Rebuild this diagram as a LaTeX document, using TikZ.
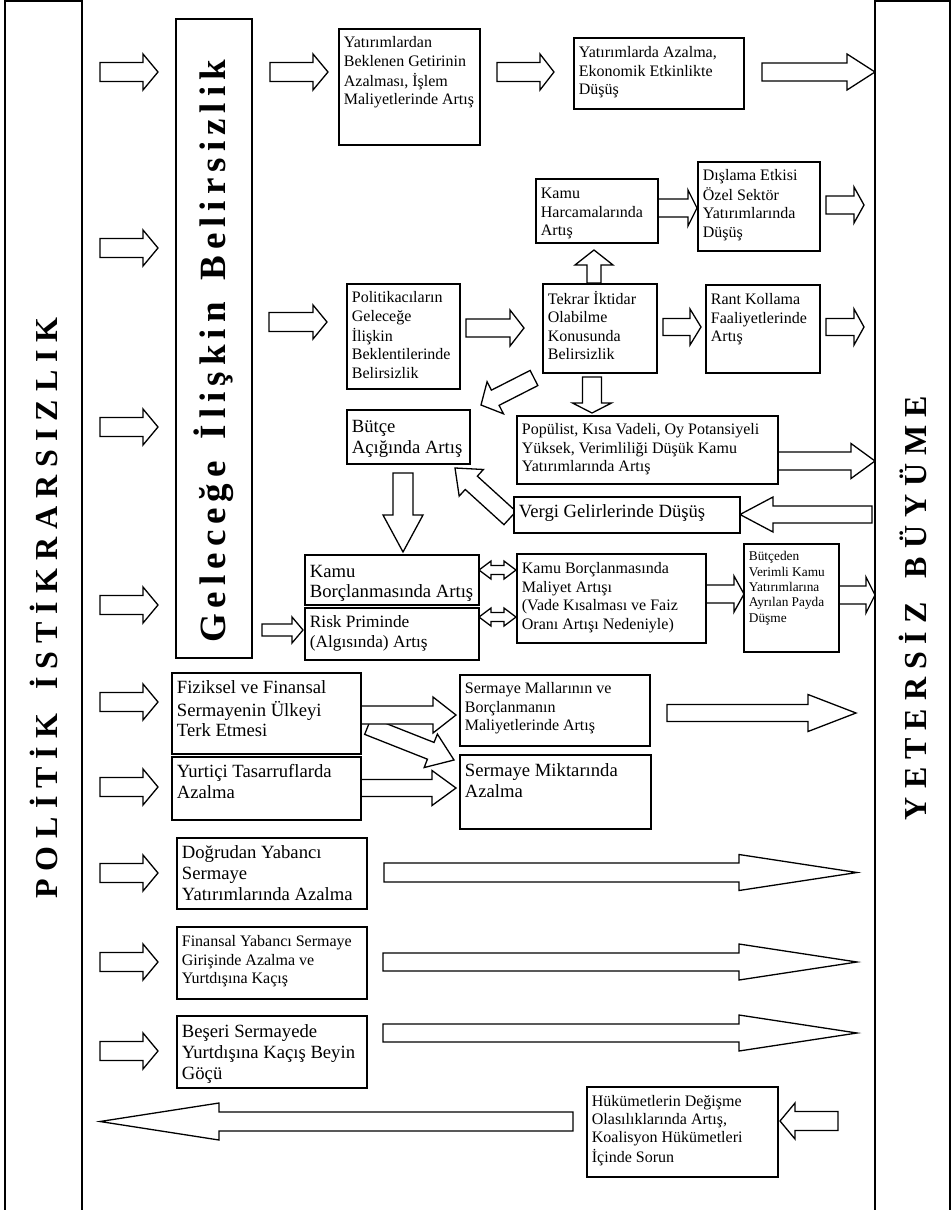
\documentclass[tikz,border=0pt]{standalone}
\usepackage{fontspec}
\setmainfont{Liberation Serif}
\usetikzlibrary{calc}
\pgfdeclarelayer{back}
\pgfdeclarelayer{bg}
\pgfsetlayers{back,bg,main}
\makeatletter
\newcommand\spreadword[2]{{\def\sw@gap{#1}\let\sw@sep\relax\@tfor\sw@c:=#2\do{\sw@sep\sw@c\def\sw@sep{\hspace{\sw@gap}}}}}
\makeatother
\newcommand\txtlines[1]{\vbox{\tabskip=0pt\halign{\strut##\hfil\cr#1\crcr}}}
\newcommand\boxtext[5]{\vbox to #2pt{\hbox to #1pt{\hfil}\nointerlineskip\kern#3pt\nointerlineskip\moveright5pt\hbox to 0pt{#4\txtlines{#5}\hss}\vfil}}
\newcommand\tbox[8]{\node[box] (#1) at (#2,#3) {\boxtext{#4}{#5}{#6}{#7}{#8}};}
\newcommand\fA{\fontsize{16}{18.5}\selectfont}
\newcommand\fB{\fontsize{18.67}{21}\selectfont}
\newcommand\fC{\fontsize{13.33}{15.3}\selectfont}
\newcommand\fD{\fontsize{17.3}{20}\selectfont}
\newcommand\fE{\fontsize{18.67}{20}\selectfont}
\newcommand\fH{\fontsize{16}{17.8}\selectfont}
\newcommand\fBar{\fontsize{32}{36}\selectfont\bfseries}
\newcommand\fMid{\fontsize{37}{40}\selectfont\bfseries}
% block arrow: tail, tip, shaft half width, head half width, head length
\newcommand\barrow[6][]{%
  \coordinate (bA) at ($(#3)!#6pt!(#2)$);
  \draw[blk,#1] ($(#2)!#4pt!90:(#3)$) -- ($(bA)!#4pt!90:(#3)$) -- ($(bA)!#5pt!90:(#3)$) -- (#3)
    -- ($(bA)!#5pt!-90:(#3)$) -- ($(bA)!#4pt!-90:(#3)$) -- ($(#2)!#4pt!-90:(#3)$) -- cycle;}
% double block arrow: left tip, right tip, shaft half width, head half width, head length
\newcommand\darrow[5]{%
  \coordinate (dA) at ($(#1)!#5pt!(#2)$);
  \coordinate (dB) at ($(#2)!#5pt!(#1)$);
  \draw[blk] (#1) -- ($(dA)!#4pt!90:(#2)$) -- ($(dA)!#3pt!90:(#2)$) -- ($(dB)!#3pt!-90:(#1)$)
    -- ($(dB)!#4pt!-90:(#1)$) -- (#2) -- ($(dB)!#4pt!90:(#1)$) -- ($(dB)!#3pt!90:(#1)$)
    -- ($(dA)!#3pt!-90:(#2)$) -- ($(dA)!#4pt!-90:(#2)$) -- cycle;}
\begin{document}
\begin{tikzpicture}[x=1pt,y=-1pt,
  box/.style={draw, line width=1.8pt, fill=white, inner sep=0pt, anchor=north west},
  bar/.style={draw, line width=1.8pt, fill=white, inner sep=0pt, rotate=90},
  blk/.style={draw, line width=1.3pt, fill=white, line join=miter, miter limit=10}]
\begin{pgfonlayer}{back}\fill[white] (0,0) rectangle (951,1210);\end{pgfonlayer}
\useasboundingbox (0,0) rectangle (951,1210);
% bars
\node[bar, minimum width=1214pt, minimum height=77pt] (lbar) at (43.5,608)
  {\fBar\spreadword{8pt}{POLİTİK}\hspace{24pt}\spreadword{8pt}{İSTİKRARSIZLIK}};
\node[bar, minimum width=1214pt, minimum height=75pt] (rbar) at (912.5,608)
  {\fBar\spreadword{8pt}{YETERSİZ}\hspace{24pt}\spreadword{8pt}{BÜYÜME}};
\node[bar, minimum width=639pt, minimum height=76pt] (mbar) at (214,338.5)
  {\fMid\spreadword{6pt}{Geleceğe}\hspace{22pt}\spreadword{6pt}{İlişkin}\hspace{22pt}\spreadword{6pt}{Belirsizlik}\rule{26pt}{0pt}};
% boxes
\tbox{yat1}{338}{28}{141}{116}{6}{\fA}{Yatırımlardan\cr Beklenen Getirinin\cr Azalması, İşlem\cr Maliyetlerinde Artış}
\tbox{yat2}{573}{37}{170}{71}{7}{\fA}{Yatırımlarda Azalma,\cr Ekonomik Etkinlikte\cr Düşüş}
\tbox{kamuh}{535}{178}{122}{64}{7}{\fA}{Kamu\cr Harcamalarında\cr Artış}
\tbox{disl}{697}{161}{122}{89}{6}{\fA}{Dışlama Etkisi\cr Özel Sektör\cr Yatırımlarında\cr Düşüş}
\tbox{polit}{346}{283}{113}{105}{6}{\fA}{Politikacıların\cr Geleceğe\cr İlişkin\cr Beklentilerinde\cr Belirsizlik}
\tbox{tekrar}{542}{283}{114}{89}{7}{\fA}{Tekrar İktidar\cr Olabilme\cr Konusunda\cr Belirsizlik}
\tbox{rant}{705}{284}{114}{88}{7}{\fA}{Rant Kollama\cr Faaliyetlerinde\cr Artış}
\tbox{butce}{346}{409}{123}{54}{8.3}{\fB}{Bütçe\cr Açığında Artış}
\tbox{popul}{516}{415}{261}{68}{6}{\fA}{Popülist, Kısa Vadeli, Oy Potansiyeli\cr Yüksek, Verimliliği Düşük Kamu\cr Yatırımlarında Artış}
\tbox{vergi}{513}{496}{226}{36}{6.3}{\fB}{Vergi Gelirlerinde Düşüş}
\tbox{kborc}{304}{554}{174}{50}{9}{\fE}{Kamu\cr Borçlanmasında Artış}
\tbox{risk}{304}{607}{174}{52}{6}{\fD}{Risk Priminde\cr (Algısında) Artış}
\tbox{mal}{516}{553}{189}{89}{7}{\fA}{Kamu Borçlanmasında\cr Maliyet Artışı\cr (Vade Kısalması ve Faiz\cr Oranı Artışı Nedeniyle)}
\tbox{bden}{743}{543}{95}{108}{6.3}{\fC}{Bütçeden\cr Verimli Kamu\cr Yatırımlarına\cr Ayrılan Payda\cr Düşme}
\tbox{fiz}{171}{672}{189}{81}{7}{\fE}{Fiziksel ve Finansal\cr Sermayenin Ülkeyi\cr Terk Etmesi}
\tbox{smal}{459}{674}{190}{71}{6}{\fA}{Sermaye Mallarının ve\cr Borçlanmanın\cr Maliyetlerinde Artış}
\tbox{yurt}{171}{756}{189}{63}{6.3}{\fB}{Yurtiçi Tasarruflarda\cr Azalma}
\tbox{smik}{459}{754}{191}{74}{7.3}{\fB}{Sermaye Miktarında\cr Azalma}
\tbox{dogr}{176}{837}{190}{71}{6.3}{\fB}{Doğrudan Yabancı\cr Sermaye\cr Yatırımlarında Azalma}
\tbox{fin}{176}{926}{190}{72}{7}{\fA}{Finansal Yabancı Sermaye\cr Girişinde Azalma ve\cr Yurtdışına Kaçış}
\tbox{bes}{176}{1015}{190}{72}{7.3}{\fB}{Beşeri Sermayede\cr Yurtdışına Kaçış Beyin\cr Göçü}
\tbox{huk}{586}{1086}{191}{90}{7.5}{\fH}{Hükümetlerin Değişme\cr Olasılıklarında Artış,\cr Koalisyon Hükümetleri\cr İçinde Sorun}
% arrows
\begin{pgfonlayer}{bg}
\foreach \yy [count=\i] in {72,248,427,605,702,787,873,962,1051}{
  \coordinate (la\i) at (100,\yy); \coordinate (lb\i) at (158,\yy);
  \barrow{la\i}{lb\i}{9.5}{18}{15}}
\coordinate (m1s) at (270,72);   \coordinate (m1e) at (328,72);   \barrow{m1s}{m1e}{9.5}{18}{15}
\coordinate (m2s) at (269,322);  \coordinate (m2e) at (327,322);  \barrow{m2s}{m2e}{9.5}{17}{14}
\coordinate (m3s) at (262,630);  \coordinate (m3e) at (303,630);  \barrow{m3s}{m3e}{6}{13}{11}
\coordinate (a1s) at (497,72);   \coordinate (a1e) at (554,72);   \barrow{a1s}{a1e}{9.5}{18}{14}
\coordinate (a2s) at (762,72);   \coordinate (a2e) at (875,72);   \barrow{a2s}{a2e}{9}{18}{28}
\coordinate (a3s) at (657,208);  \coordinate (a3e) at (697,208);  \barrow{a3s}{a3e}{9}{18}{9}
\coordinate (a4s) at (826,205);  \coordinate (a4e) at (864,205);  \barrow{a4s}{a4e}{9}{18}{10}
\coordinate (a5s) at (594,283);  \coordinate (a5e) at (594,250);  \barrow{a5s}{a5e}{7}{19}{15}
\coordinate (a6s) at (466,328);  \coordinate (a6e) at (524,328);  \barrow{a6s}{a6e}{9}{18}{14}
\coordinate (a7s) at (663,327);  \coordinate (a7e) at (701,327);  \barrow{a7s}{a7e}{8.5}{18}{11}
\coordinate (a8s) at (826,327);  \coordinate (a8e) at (864,327);  \barrow{a8s}{a8e}{8.5}{18}{10}
\coordinate (a9s) at (592,377);  \coordinate (a9e) at (592,413);  \barrow{a9s}{a9e}{9.5}{19.5}{10}
\coordinate (a10s) at (534,378); \coordinate (a10e) at (481,405); \barrow{a10s}{a10e}{8.5}{18}{16}
\coordinate (a11s) at (777,461); \coordinate (a11e) at (875,461); \barrow{a11s}{a11e}{9}{17.5}{24}
\coordinate (a12s) at (872,514.5); \coordinate (a12e) at (740,514.5); \barrow{a12s}{a12e}{8.5}{17.5}{33}
\coordinate (a13s) at (510,518); \coordinate (a13e) at (455,468); \barrow{a13s}{a13e}{9}{18}{22}
\coordinate (a14s) at (403,473); \coordinate (a14e) at (403,552); \barrow{a14s}{a14e}{10}{20}{37}
\coordinate (d1s) at (479,570);  \coordinate (d1e) at (516,570);  \darrow{d1s}{d1e}{4.5}{9}{12}
\coordinate (d2s) at (479,617);  \coordinate (d2e) at (516,617);  \darrow{d2s}{d2e}{4.5}{9}{12}
\coordinate (a15s) at (705,594); \coordinate (a15e) at (744,594); \barrow{a15s}{a15e}{9}{18}{10}
\coordinate (a16s) at (838,595); \coordinate (a16e) at (875,595); \barrow{a16s}{a16e}{9}{18}{9}
\coordinate (a17s) at (368,726); \coordinate (a17e) at (454,760); \barrow{a17s}{a17e}{9}{18}{25}
\coordinate (a18s) at (360,715); \coordinate (a18e) at (456,715); \barrow{a18s}{a18e}{9}{18}{23}
\coordinate (a19s) at (360,788); \coordinate (a19e) at (456,788); \barrow{a19s}{a19e}{8.5}{17.5}{24}
\coordinate (a20s) at (667,713); \coordinate (a20e) at (856,713); \barrow{a20s}{a20e}{8.5}{18.5}{48}
\coordinate (a21s) at (384,872.5); \coordinate (a21e) at (857,872.5); \barrow{a21s}{a21e}{9.5}{18}{118}
\coordinate (a22s) at (383,962); \coordinate (a22e) at (857,962); \barrow{a22s}{a22e}{9}{18}{118}
\coordinate (a23s) at (383,1033); \coordinate (a23e) at (857,1033); \barrow{a23s}{a23e}{9}{18}{118}
\coordinate (a24s) at (573,1121.5); \coordinate (a24e) at (100,1121.5); \barrow{a24s}{a24e}{9.5}{18.5}{119}
\coordinate (a25s) at (838,1121); \coordinate (a25e) at (780,1121); \barrow{a25s}{a25e}{9.5}{18}{15}
\end{pgfonlayer}
\end{tikzpicture}
\end{document}
